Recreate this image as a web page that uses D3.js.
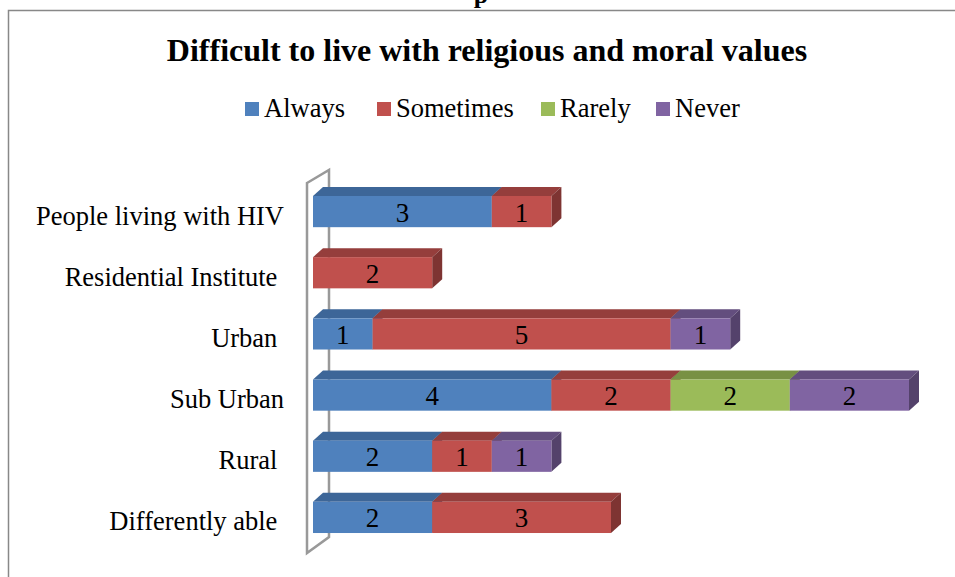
<!DOCTYPE html>
<html>
<head>
<meta charset="utf-8">
<script src="https://cdn.jsdelivr.net/npm/d3@7"></script>
<style>
  body { margin: 0; background: #fff; }
  text { font-family: "Liberation Serif", "Times New Roman", serif; }
</style>
</head>
<body>
<script>
let categories = ['People living with HIV', 'Residential Institute ', 'Urban ', 'Sub Urban', 'Rural ', 'Differently able '];
let seriesNames = ['Always', 'Sometimes', 'Rarely', 'Never'];
let always    = [3, 0, 1, 4, 2, 2];
let sometimes = [1, 2, 5, 2, 1, 3];
let rarely    = [0, 0, 0, 2, 0, 0];
let never     = [0, 0, 1, 2, 1, 0];

let colors = {
  Always:    { front: '#4F81BD', top: '#3D6698', side: '#345885' },
  Sometimes: { front: '#C0504D', top: '#953E3C', side: '#7E3432' },
  Rarely:    { front: '#9BBB59', top: '#789144', side: '#667C3A' },
  Never:     { front: '#8064A2', top: '#634E7E', side: '#54426B' }
};

let width = 955, height = 577;
let depthX = 10, depthY = 9;

let rows = categories.map(function(c, i) {
  return { cat: c, Always: always[i], Sometimes: sometimes[i], Rarely: rarely[i], Never: never[i] };
});

let stacked = d3.stack().keys(seriesNames)(rows);

let svg = d3.select('body').append('svg')
    .attr('width', width)
    .attr('height', height);

// chart frame
svg.append('rect')
    .attr('x', 8.5).attr('y', 10.5)
    .attr('width', 960).attr('height', 600)
    .attr('fill', 'none')
    .attr('stroke', '#888')
    .attr('stroke-width', 1.5);

// bit of the page heading peeking over the frame (cut off in the original too)
svg.append('text')
    .attr('x', 481).attr('y', 3)
    .attr('text-anchor', 'middle')
    .attr('font-size', 26)
    .attr('font-weight', 'bold')
    .text('p');

svg.append('text')
    .attr('x', 487).attr('y', 61)
    .attr('text-anchor', 'middle')
    .attr('font-size', 32)
    .attr('font-weight', 'bold')
    .text('Difficult to live with religious and moral values');

// legend
let legendX = [245, 377, 541, 656];
let legend = svg.append('g').selectAll('g')
  .data(seriesNames)
  .enter().append('g')
    .attr('transform', function(d, i) { return 'translate(' + legendX[i] + ',102)'; });

legend.append('rect')
    .attr('width', 14).attr('height', 14)
    .attr('fill', function(d) { return colors[d].front; });

legend.append('text')
    .attr('x', 19).attr('y', 15)
    .attr('font-size', 26.5)
    .text(function(d) { return d; });

let x = d3.scaleLinear().domain([0, 10]).range([313, 909]);
let y = d3.scaleBand().domain(categories).range([181, 548]).paddingInner(0.49).paddingOuter(0.245);

// side wall
svg.append('path')
    .attr('d', 'M307,183 L329,170 L329,537 L307,553 Z')
    .attr('fill', 'none')
    .attr('stroke', '#999')
    .attr('stroke-width', 2.5);

// category labels
svg.append('g').selectAll('text')
  .data(categories)
  .enter().append('text')
    .attr('x', 284)
    .attr('y', function(d) { return y(d) + y.bandwidth() / 2 + 13; })
    .attr('text-anchor', 'end')
    .attr('font-size', 26.5)
    .style('white-space', 'pre')
    .text(function(d) { return d; });

// bars
let segs = [];
stacked.forEach(function(layer) {
  layer.forEach(function(d) {
    if (d[1] - d[0] > 0) segs.push({ key: layer.key, x0: d[0], x1: d[1], cat: d.data.cat });
  });
});

let bars = svg.append('g').selectAll('g')
  .data(segs)
  .enter().append('g');

bars.append('path')
    .attr('fill', function(d) { return colors[d.key].top; })
    .attr('d', function(d) {
      let x0 = x(d.x0), x1 = x(d.x1), y0 = y(d.cat);
      return 'M' + x0 + ',' + y0 + 'L' + (x0 + depthX) + ',' + (y0 - depthY) +
        'L' + (x1 + depthX) + ',' + (y0 - depthY) + 'L' + x1 + ',' + y0 + 'Z';
    });

bars.append('path')
    .attr('fill', function(d) { return colors[d.key].side; })
    .attr('d', function(d) {
      let x1 = x(d.x1), y0 = y(d.cat), h = y.bandwidth();
      return 'M' + x1 + ',' + y0 + 'L' + (x1 + depthX) + ',' + (y0 - depthY) +
        'L' + (x1 + depthX) + ',' + (y0 + h - depthY) + 'L' + x1 + ',' + (y0 + h) + 'Z';
    });

bars.append('rect')
    .attr('x', function(d) { return x(d.x0); })
    .attr('y', function(d) { return y(d.cat); })
    .attr('width', function(d) { return x(d.x1) - x(d.x0); })
    .attr('height', y.bandwidth())
    .attr('fill', function(d) { return colors[d.key].front; });

bars.append('text')
    .attr('x', function(d) { return (x(d.x0) + x(d.x1)) / 2; })
    .attr('y', function(d) { return y(d.cat) + y.bandwidth() / 2 + 10; })
    .attr('text-anchor', 'middle')
    .attr('font-size', 27)
    .text(function(d) { return d.x1 - d.x0; });
</script>
</body>
</html>
